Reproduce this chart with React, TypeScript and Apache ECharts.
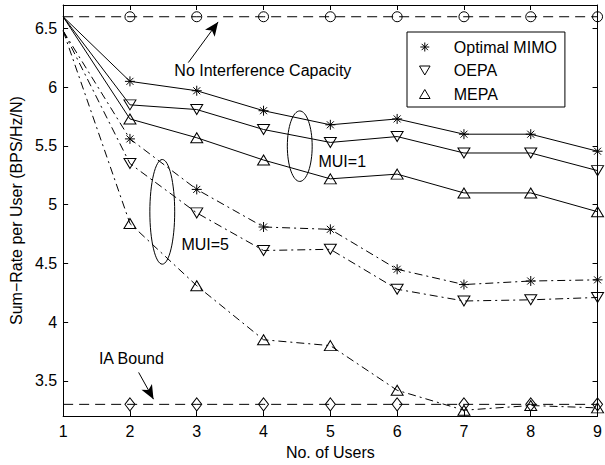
import React, { useEffect, useRef } from "react";
import * as echarts from "echarts";

// ---- Data ----
const users = [1, 2, 3, 4, 5, 6, 7, 8, 9];
const xTicks = [1, 2, 3, 4, 5, 6, 7, 8, 9];
const yTicks = [3.5, 4, 4.5, 5, 5.5, 6, 6.5];

const noInterference = [6.6, 6.6, 6.6, 6.6, 6.6, 6.6, 6.6, 6.6, 6.6];
const iaBound = [3.3, 3.3, 3.3, 3.3, 3.3, 3.3, 3.3, 3.3, 3.3];

const optimalMui1 = [6.6, 6.05, 5.97, 5.8, 5.68, 5.73, 5.6, 5.6, 5.455];
const oepaMui1 = [6.6, 5.85, 5.81, 5.64, 5.53, 5.58, 5.44, 5.44, 5.29];
const mepaMui1 = [6.6, 5.73, 5.57, 5.38, 5.22, 5.26, 5.1, 5.1, 4.94];

const optimalMui5 = [6.48, 5.56, 5.13, 4.81, 4.79, 4.45, 4.32, 4.35, 4.36];
const oepaMui5 = [6.48, 5.35, 4.93, 4.61, 4.62, 4.28, 4.18, 4.19, 4.21];
const mepaMui5 = [6.48, 4.84, 4.31, 3.85, 3.8, 3.42, 3.25, 3.29, 3.27];

const legendNames = ["Optimal MIMO", "OEPA", "MEPA"];

// ---- Annotations (data coordinates) ----
const capacityArrow = [[2.874, 6.21], [3.32, 6.556]];
const iaArrow = [[2.13, 3.572], [2.353, 3.344]];
const textNotes = [
  { text: "No Interference Capacity", at: [2.665, 6.142] },
  { text: "MUI=1", at: [4.822, 5.369] },
  { text: "MUI=5", at: [2.77, 4.663] },
  { text: "IA Bound", at: [1.535, 3.69] },
];
const ellipses = [
  { center: [4.542, 5.498], rx: 0.186, ry: 0.3 },
  { center: [2.484, 4.939], rx: 0.186, ry: 0.4455 },
];

// ---- Symbols ----
const ASTER = "path://M0,-10L0,10M-10,0L10,0M-7,-7L7,7M-7,7L7,-7";
const TRI_DOWN = "path://M-10,-8L10,-8L0,9Z";
const TRI_UP = "path://M0,-9L10,8L-10,8Z";
const CIRCLE = "path://M0,-10A10,10,0,1,1,0,10A10,10,0,1,1,0,-10Z";
const DIAMOND = "path://M0,-10L7.5,0L0,10L-7.5,0Z";

const FONT = "Liberation Sans, Arial, Helvetica, sans-serif";
const DASH = [10, 6];
const DASHDOT = [8, 4, 2, 4];

function makeSeries(
  name: string,
  values: number[],
  symbol: string,
  size: number | number[],
  lineType: any,
  extra: any = {}
) {
  return {
    type: "line",
    name,
    data: values.map((v, i) =>
      i === 0 ? { value: [users[i], v], symbol: "none" } : { value: [users[i], v] }
    ),
    symbol,
    symbolSize: size,
    showSymbol: true,
    itemStyle: { color: "rgba(0,0,0,0)", borderColor: "#000", borderWidth: 1 },
    lineStyle: { color: "#000", width: 1, type: lineType },
    emphasis: { disabled: true },
    silent: true,
    ...extra,
  };
}

function arrowMarkLine(seg: number[][]) {
  return {
    silent: true,
    symbol: ["none", "arrow"],
    symbolSize: [9, 14],
    label: { show: false },
    lineStyle: { color: "#000", width: 1, type: "solid" },
    itemStyle: { color: "#000" },
    emphasis: { disabled: true },
    data: [[{ coord: seg[0] }, { coord: seg[1] }]],
  };
}

export default function App() {
  const ref = useRef<HTMLDivElement>(null);

  useEffect(() => {
    if (!ref.current) return;
    const chart = echarts.init(ref.current, null, { renderer: "svg" });

    const axisCommon = {
      axisLine: { show: true, onZero: false, lineStyle: { color: "#000", width: 1 } },
      axisTick: { show: true, inside: true, length: 5, lineStyle: { color: "#000" } },
      splitLine: { show: false },
    };

    const option: any = {
      animation: false,
      backgroundColor: "#fff",
      textStyle: { fontFamily: FONT },
      grid: { left: 61, right: 6, top: 5, bottom: 46, containLabel: false },
      xAxis: [
        {
          type: "value",
          position: "bottom",
          min: 1,
          max: 9,
          interval: 1,
          name: "No. of Users",
          nameLocation: "middle",
          nameGap: 27,
          nameTextStyle: { color: "#000", fontSize: 16, fontFamily: FONT },
          ...axisCommon,
          axisLabel: {
            color: "#000",
            fontSize: 16,
            fontFamily: FONT,
            margin: 7,
            customValues: xTicks,
          },
        },
        {
          type: "value",
          position: "top",
          min: 1,
          max: 9,
          interval: 1,
          ...axisCommon,
          axisLabel: { show: false },
        },
      ],
      yAxis: [
        {
          type: "value",
          position: "left",
          min: 3.2,
          max: 6.7,
          name: "Sum\u2212Rate per User (BPS/Hz/N)",
          nameLocation: "middle",
          nameGap: 36,
          nameTextStyle: { color: "#000", fontSize: 16, fontFamily: FONT },
          ...axisCommon,
          axisTick: { ...axisCommon.axisTick, customValues: yTicks },
          axisLabel: {
            color: "#000",
            fontSize: 16,
            fontFamily: FONT,
            margin: 6,
            customValues: yTicks,
          },
        },
        {
          type: "value",
          position: "right",
          min: 3.2,
          max: 6.7,
          ...axisCommon,
          axisTick: { ...axisCommon.axisTick, customValues: yTicks },
          axisLabel: { show: false },
        },
      ],
      legend: {
        left: 407,
        top: 32,
        orient: "vertical",
        padding: [7, 8, 5, 12],
        itemGap: 7.5,
        itemWidth: 48,
        itemHeight: 9,
        borderColor: "#000",
        borderWidth: 1,
        backgroundColor: "#fff",
        selectedMode: false,
        textStyle: { color: "#000", fontSize: 16, fontFamily: FONT, lineHeight: 16 },
        itemStyle: { color: "rgba(0,0,0,0)", borderColor: "#000", borderWidth: 1 },
        data: [
          { name: legendNames[0], icon: ASTER },
          { name: legendNames[1], icon: TRI_DOWN },
          { name: legendNames[2], icon: TRI_UP },
        ],
      },
      series: [
        makeSeries("No Interference Capacity", noInterference, CIRCLE, 10, DASH, {
          markLine: arrowMarkLine(capacityArrow),
        }),
        makeSeries("IA Bound", iaBound, DIAMOND, [10, 13], DASH, {
          markLine: arrowMarkLine(iaArrow),
        }),
        makeSeries(legendNames[0], optimalMui1, ASTER, 10, "solid"),
        makeSeries(legendNames[1], oepaMui1, TRI_DOWN, [12, 10], "solid"),
        makeSeries(legendNames[2], mepaMui1, TRI_UP, [12, 10], "solid"),
        makeSeries(legendNames[0], optimalMui5, ASTER, 10, DASHDOT),
        makeSeries(legendNames[1], oepaMui5, TRI_DOWN, [12, 10], DASHDOT),
        makeSeries(legendNames[2], mepaMui5, TRI_UP, [12, 10], DASHDOT),
      ],
    };

    chart.setOption(option);

    const finder = { xAxisIndex: 0, yAxisIndex: 0 };
    const graphics: any[] = [];
    textNotes.forEach((t) => {
      const p = chart.convertToPixel(finder, t.at) as number[];
      graphics.push({
        type: "text",
        x: p[0],
        y: p[1],
        silent: true,
        style: {
          text: t.text,
          fill: "#000",
          fontSize: 16,
          fontFamily: FONT,
          textAlign: "left",
          textVerticalAlign: "middle",
        },
      });
    });
    ellipses.forEach((e) => {
      const c = chart.convertToPixel(finder, e.center) as number[];
      const r = chart.convertToPixel(finder, [e.center[0] + e.rx, e.center[1] + e.ry]) as number[];
      graphics.push({
        type: "ellipse",
        silent: true,
        shape: { cx: c[0], cy: c[1], rx: Math.abs(r[0] - c[0]), ry: Math.abs(c[1] - r[1]) },
        style: { fill: "none", stroke: "#000", lineWidth: 1 },
      });
    });
    chart.setOption({ graphic: graphics });

    return () => chart.dispose();
  }, []);

  return (
    <div
      ref={ref}
      style={{ position: "fixed", left: 0, top: 0, width: 605, height: 465 }}
    />
  );
}
